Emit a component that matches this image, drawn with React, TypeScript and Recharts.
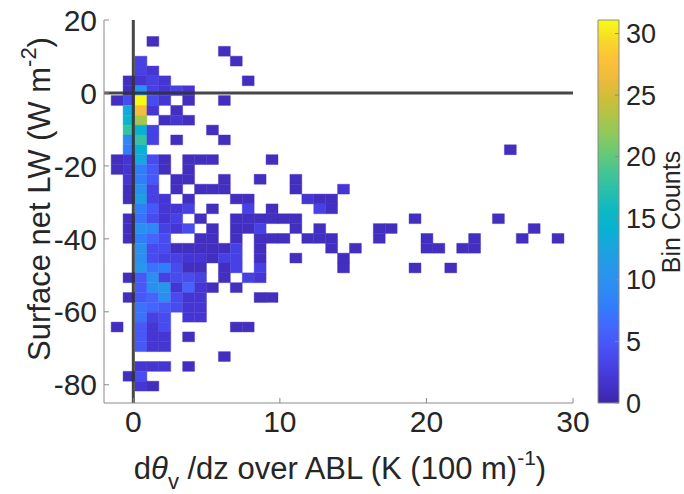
import { ReferenceArea, ReferenceLine, Scatter, ScatterChart, XAxis, YAxis } from 'recharts'

const FONT = '"Liberation Sans", Arial, Helvetica, sans-serif'
const INK = '#262626'
const FRAME = '#8a8a8a'

const xTicks = [0, 10, 20, 30]
const yTicks = [-80, -60, -40, -20, 0, 20]
const colorTicks = [0, 5, 10, 15, 20, 25, 30]
const countMax = 31.1

// histogram bin grid (K (100 m)^-1 and W m^-2)
const xBinStart = 0.115
const xBinWidth = 0.813
const yBinTop = -0.72
const yBinHeight = 2.7

// row index counted downward from the row just below y = 0
const rowIds = [-6, -5, -4, -3, -2, -1, 0, 1, 2, 3, 4, 5, 6, 7, 8, 9, 10, 11, 12, 13, 14, 15, 16, 17, 18, 19, 20, 21, 22, 23, 24, 25, 26, 27, 28, 29]

// [column, count] pairs for each row
const rowCells: [number, number][][] = [
  [[1, 1]],
  [[7, 1]],
  [[0, 3], [8, 1]],
  [[0, 3], [1, 2]],
  [[-1, 1], [0, 2], [1, 3], [2, 2], [9, 1]],
  [[-1, 1], [0, 10], [1, 3], [2, 2], [3, 3], [4, 2]],
  [[-2, 1], [-1, 4], [0, 31], [1, 4], [2, 2], [4, 1], [7, 1]],
  [[-1, 13], [0, 27], [1, 2], [3, 1]],
  [[-1, 15], [0, 23], [2, 1], [3, 2], [4, 1]],
  [[-1, 18], [0, 14], [1, 3], [6, 1]],
  [[-1, 9], [0, 18], [1, 3], [3, 1], [7, 1]],
  [[-1, 8], [0, 14], [31, 1]],
  [[-2, 1], [-1, 2], [0, 13], [1, 4], [2, 1], [4, 1], [5, 1], [6, 1], [11, 1]],
  [[-2, 1], [-1, 2], [0, 8], [1, 5], [2, 1], [4, 1]],
  [[-1, 2], [0, 8], [1, 5], [3, 1], [4, 1], [7, 1], [10, 1], [13, 1]],
  [[-1, 1], [0, 10], [1, 3], [3, 1], [5, 1], [6, 1], [7, 1], [13, 1], [17, 2]],
  [[-1, 1], [0, 12], [1, 3], [2, 2], [4, 1], [8, 1], [9, 1], [14, 2], [15, 1], [16, 1]],
  [[0, 8], [1, 5], [2, 2], [3, 2], [4, 3], [6, 1], [9, 3], [11, 1], [15, 3], [16, 1]],
  [[-1, 1], [0, 7], [1, 4], [2, 2], [3, 3], [5, 1], [8, 1], [9, 1], [10, 1], [11, 1], [12, 1], [13, 1], [23, 1], [30, 1]],
  [[-1, 1], [0, 10], [1, 9], [2, 3], [3, 2], [4, 4], [6, 1], [8, 1], [9, 1], [10, 3], [13, 1], [15, 1], [20, 1], [21, 1], [33, 1]],
  [[-1, 1], [0, 8], [1, 6], [2, 4], [5, 1], [6, 1], [8, 1], [10, 1], [11, 1], [12, 1], [14, 1], [15, 1], [16, 1], [20, 1], [24, 1], [28, 1], [32, 1], [35, 1]],
  [[0, 10], [1, 4], [2, 4], [3, 1], [4, 1], [5, 1], [6, 1], [7, 1], [8, 3], [10, 1], [16, 1], [18, 1], [24, 1], [25, 1], [27, 1], [28, 1]],
  [[0, 10], [1, 4], [2, 3], [3, 3], [4, 2], [5, 2], [6, 1], [7, 3], [8, 3], [10, 1], [13, 1], [17, 1]],
  [[0, 11], [1, 7], [2, 8], [3, 4], [4, 1], [5, 1], [7, 1], [8, 3], [10, 3], [17, 1], [23, 1], [26, 1]],
  [[-1, 1], [0, 5], [1, 10], [2, 3], [3, 4], [4, 4], [5, 3], [7, 1], [9, 3], [10, 2]],
  [[0, 5], [1, 10], [2, 11], [3, 2], [4, 6], [5, 2], [6, 1], [8, 1]],
  [[-1, 1], [0, 5], [1, 6], [2, 10], [3, 4], [4, 2], [5, 2], [10, 1], [11, 1]],
  [[0, 7], [1, 6], [2, 5], [3, 4], [4, 2], [5, 2]],
  [[0, 7], [1, 3], [2, 4], [4, 2], [5, 2]],
  [[-2, 1], [0, 5], [1, 2], [2, 4], [8, 1], [9, 1]],
  [[0, 5], [1, 2], [2, 2], [4, 1]],
  [[0, 5], [1, 2], [2, 2]],
  [[7, 1]],
  [[0, 2], [1, 2], [2, 2], [4, 1]],
  [[-1, 1], [0, 4]],
  [[0, 2], [1, 1]]
]

// parula
const parula: [number, number[]][] = [
  [0, [62, 38, 168]],
  [0.06, [69, 53, 210]],
  [0.1, [71, 66, 230]],
  [0.15, [72, 84, 246]],
  [0.2, [67, 103, 253]],
  [0.25, [50, 124, 252]],
  [0.3, [45, 140, 243]],
  [0.35, [39, 150, 235]],
  [0.4, [28, 163, 224]],
  [0.45, [8, 176, 212]],
  [0.5, [13, 184, 196]],
  [0.55, [38, 191, 173]],
  [0.6, [66, 196, 150]],
  [0.65, [102, 201, 120]],
  [0.7, [140, 201, 94]],
  [0.75, [176, 196, 71]],
  [0.8, [209, 189, 56]],
  [0.85, [240, 186, 59]],
  [0.9, [252, 194, 56]],
  [0.95, [247, 219, 38]],
  [1, [249, 251, 20]]
]

function parulaAt(t: number) {
  const v = Math.max(0, Math.min(1, t))
  for (let i = 1; i < parula.length; i++) {
    const [t1, c1] = parula[i]
    const [t0, c0] = parula[i - 1]
    if (v <= t1) {
      const f = (v - t0) / (t1 - t0)
      const c = c0.map((a, j) => Math.round(a + (c1[j] - a) * f))
      return `rgb(${c[0]},${c[1]},${c[2]})`
    }
  }
  return 'rgb(249,251,20)'
}

const cells = rowIds.flatMap((k, i) =>
  rowCells[i].map(([c, count]) => {
    const x1 = xBinStart + c * xBinWidth
    const y1 = yBinTop - k * yBinHeight
    return {
      x1,
      x2: x1 + xBinWidth,
      y1: y1 - yBinHeight,
      y2: y1,
      x: x1 + xBinWidth / 2,
      y: y1 - yBinHeight / 2,
      count
    }
  })
)

const tickStyle = { fontSize: 30, fill: INK, fontFamily: FONT }

export default function App() {
  return (
    <div style={{ position: 'absolute', left: 0, top: 0, width: 684, height: 494, background: '#fff', fontFamily: FONT }}>
      <svg width={0} height={0} style={{ position: 'absolute' }}>
        <defs>
          <linearGradient id="parulaBar" x1="0" y1="1" x2="0" y2="0">
            {parula.map(([t, c]) => (
              <stop key={t} offset={t} stopColor={`rgb(${c[0]},${c[1]},${c[2]})`} />
            ))}
          </linearGradient>
        </defs>
      </svg>

      <div style={{ position: 'absolute', left: 0, top: 0 }}>
        <ScatterChart width={590} height={494} margin={{ top: 20, right: 17, bottom: 61, left: 44 }}>
          <XAxis
            type="number"
            dataKey="x"
            domain={[-2, 30]}
            ticks={xTicks}
            allowDataOverflow
            height={30}
            tickSize={-5}
            tickMargin={13}
            stroke={FRAME}
            tick={tickStyle}
          />
          <XAxis xAxisId="top" orientation="top" type="number" domain={[-2, 30]} ticks={xTicks} height={0} tickSize={-5} tick={false} stroke={FRAME} />
          <YAxis
            type="number"
            dataKey="y"
            domain={[-85, 20]}
            ticks={yTicks}
            allowDataOverflow
            width={60}
            tickSize={-5}
            tickMargin={12}
            stroke={FRAME}
            tick={tickStyle}
          />
          <YAxis yAxisId="right" orientation="right" type="number" domain={[-85, 20]} ticks={yTicks} width={0} tickSize={-5} tick={false} stroke={FRAME} />
          {cells.map((d, i) => (
            <ReferenceArea
              key={i}
              x1={d.x1}
              x2={d.x2}
              y1={d.y1}
              y2={d.y2}
              fill={parulaAt(d.count / countMax)}
              fillOpacity={1}
              stroke={parulaAt(d.count / countMax)}
              strokeWidth={0.4}
            />
          ))}
          <Scatter data={cells} fill="none" isAnimationActive={false} shape={() => <g />} />
          <ReferenceLine x={0} stroke="#333" strokeWidth={3} strokeOpacity={0.9} />
          <ReferenceLine y={0} stroke="#333" strokeWidth={3} strokeOpacity={0.9} />
        </ScatterChart>
      </div>

      <div style={{ position: 'absolute', left: 590, top: 0 }}>
        <ScatterChart width={94} height={494} margin={{ top: 20, right: 5, bottom: 91, left: 8 }}>
          <XAxis type="number" dataKey="x" domain={[0, 1]} hide />
          <YAxis
            type="number"
            dataKey="y"
            orientation="right"
            domain={[0, countMax]}
            ticks={colorTicks}
            width={60}
            tickSize={-4}
            tickMargin={11}
            axisLine={false}
            stroke={FRAME}
            tick={{ ...tickStyle, fontSize: 27, textAnchor: 'start' }}
          />
          <ReferenceArea x1={0} x2={1} y1={0} y2={countMax} fill="url(#parulaBar)" fillOpacity={1} stroke={FRAME} strokeWidth={1} />
          <Scatter data={[{ x: 0.5, y: 0 }]} fill="none" isAnimationActive={false} shape={() => <g />} />
        </ScatterChart>
      </div>

      <svg width={684} height={494} style={{ position: 'absolute', left: 0, top: 0, pointerEvents: 'none' }}>
        <text x={340} y={479} textAnchor="middle" fontSize={31} fill={INK} fontFamily={FONT}>
          d<tspan fontStyle="italic">θ</tspan>
          <tspan fontSize={22} dy={10}>v</tspan>
          <tspan dy={-10}> /dz over ABL (K (100 m)</tspan>
          <tspan fontSize={21} dy={-14}>-1</tspan>
          <tspan dy={14}>)</tspan>
        </text>
        <text transform="rotate(-90)" x={-199} y={50} textAnchor="middle" fontSize={31} fill={INK} fontFamily={FONT}>
          Surface net LW (W m<tspan fontSize={22} dy={-14}>-2</tspan>
          <tspan dy={14}>)</tspan>
        </text>
        <text transform="rotate(-90)" x={-212} y={680} textAnchor="middle" fontSize={25} fill={INK} fontFamily={FONT}>
          Bin Counts
        </text>
      </svg>
    </div>
  )
}
